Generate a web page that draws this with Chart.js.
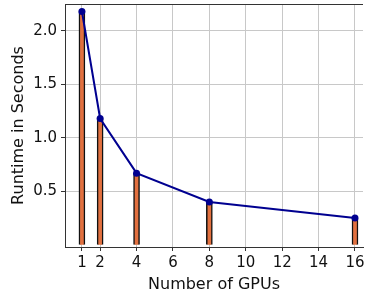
<!DOCTYPE html>
<html>
<head>
<meta charset="utf-8">
<script src="https://cdn.jsdelivr.net/npm/chart.js@4/dist/chart.umd.min.js"></script>
<style>
  html, body { margin: 0; padding: 0; background: #fff; }
  #wrap { width: 367px; height: 297px; }
</style>
</head>
<body>
<div id="wrap"><canvas id="runtimeChart" width="367" height="297"></canvas></div>
<script>
// GPU counts and measured runtimes (seconds)
const gpuCounts = [1, 2, 4, 8, 16];
const runtimes = [2.18, 1.18, 0.67, 0.40, 0.25];
const xTicks = [1, 2, 4, 6, 8, 10, 12, 14, 16];
const yTicks = [0.5, 1.0, 1.5, 2.0];

const points = gpuCounts.map((g, i) => ({ x: g, y: runtimes[i] }));
const font = { family: 'DejaVu Sans', size: 15 };

// draws the top spine of the plot box
const topBorder = {
    id: 'topBorder',
    afterDraw(chart) {
        const { ctx, chartArea } = chart;
        ctx.save();
        ctx.strokeStyle = '#333';
        ctx.lineWidth = 1;
        ctx.beginPath();
        ctx.moveTo(chartArea.left, chartArea.top + 0.5);
        ctx.lineTo(chartArea.right, chartArea.top + 0.5);
        ctx.stroke();
        ctx.restore();
    }
};

new Chart(document.getElementById('runtimeChart'), {
    type: 'bar',
    data: {
        datasets: [
            {
                type: 'line',
                data: points,
                borderColor: '#000090',
                backgroundColor: '#000090',
                borderWidth: 2,
                pointRadius: 3.5,
                pointBorderWidth: 0,
                order: 0
            },
            {
                type: 'bar',
                data: points,
                backgroundColor: '#e2703f',
                borderColor: '#111',
                borderWidth: 1.5,
                barThickness: 6,
                order: 1
            }
        ]
    },
    options: {
        responsive: false,
        animation: false,
        layout: { padding: { top: 2, right: 0, left: 0, bottom: 0 } },
        plugins: { legend: { display: false }, tooltip: { enabled: false } },
        scales: {
            x: {
                type: 'linear',
                offset: false,
                min: 0.07,
                max: 16.44,
                afterBuildTicks: (axis) => { axis.ticks = xTicks.map(v => ({ value: v })); },
                afterFit: (axis) => {
                    axis.height = 50;
                    axis.paddingLeft = 0;
                    axis.paddingRight = 0;
                },
                ticks: { color: '#111', font, padding: 3, maxRotation: 0, autoSkip: false },
                grid: { color: '#c8c8c8', lineWidth: 1, tickLength: 4, tickColor: '#333', offset: false },
                border: { color: '#333', width: 1 },
                title: {
                    display: true,
                    text: 'Number of GPUs',
                    color: '#111',
                    font: { family: 'DejaVu Sans', size: 16 },
                    padding: { top: 0, bottom: 3 }
                }
            },
            y: {
                min: -0.02,
                max: 2.25,
                afterBuildTicks: (axis) => { axis.ticks = yTicks.map(v => ({ value: v })); },
                afterFit: (axis) => {
                    axis.width = 65;
                    axis.paddingTop = 0;
                    axis.paddingBottom = 0;
                },
                ticks: {
                    color: '#111',
                    font,
                    padding: 4,
                    callback: (v) => v.toFixed(1)
                },
                grid: { color: '#c8c8c8', lineWidth: 1, tickLength: 4, tickColor: '#333' },
                border: { color: '#333', width: 1 },
                title: {
                    display: true,
                    text: 'Runtime in Seconds',
                    color: '#111',
                    font: { family: 'DejaVu Sans', size: 16 },
                    padding: { top: 9, bottom: 0 }
                }
            }
        }
    },
    plugins: [topBorder]
});
</script>
</body>
</html>
